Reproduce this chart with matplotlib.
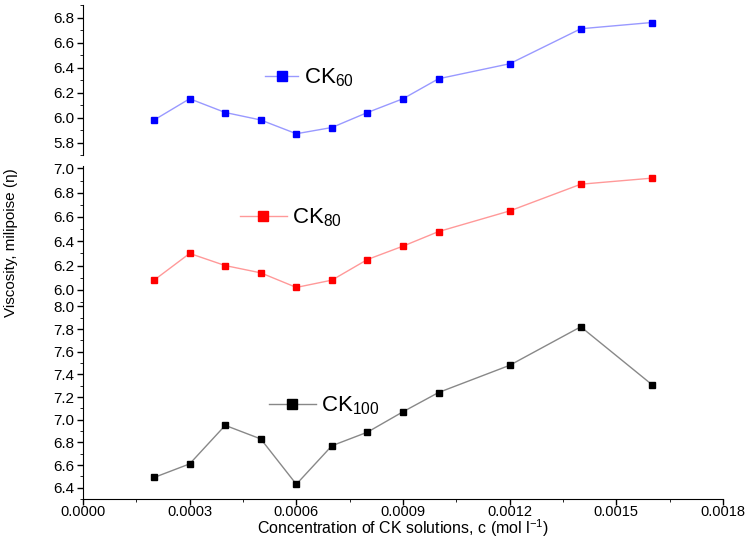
import matplotlib
matplotlib.use('Agg')
import matplotlib.pyplot as plt
from matplotlib.ticker import MultipleLocator, FormatStrFormatter

plt.rcParams['font.family'] = ['Liberation Sans', 'DejaVu Sans']

conc = [0.0002, 0.0003, 0.0004, 0.0005, 0.0006, 0.0007, 0.0008, 0.0009,
        0.0010, 0.0012, 0.0014, 0.0016]
ck60 = [5.98, 6.15, 6.04, 5.98, 5.87, 5.92, 6.04, 6.15, 6.31, 6.43, 6.71, 6.76]
ck80 = [6.08, 6.30, 6.20, 6.14, 6.02, 6.08, 6.25, 6.36, 6.48, 6.65, 6.87, 6.92]
ck100 = [6.49, 6.61, 6.95, 6.83, 6.43, 6.77, 6.89, 7.07, 7.24, 7.48, 7.82, 7.31]

W, H = 750, 539
fig = plt.figure(figsize=(7.5, 5.39), dpi=100)

def box(top, bottom, left=83, right=723):
    return [left / W, 1 - bottom / H, (right - left) / W, (bottom - top) / H]

ax1 = fig.add_axes(box(5, 155))
ax2 = fig.add_axes(box(166, 302))
ax3 = fig.add_axes(box(303, 499))

# axis, values, marker colour, line colour, label, ylim, legend pos (px), handle length
panels = [
    (ax1, ck60, '#0000ff', '#9999ff', r'CK$\mathregular{_{60}}$', (5.7, 6.9), (265, 78), 1.5),
    (ax2, ck80, '#ff0000', '#ff9999', r'CK$\mathregular{_{80}}$', (5.9, 7.02), (240, 218), 2.1),
    (ax3, ck100, '#000000', '#888888', r'CK$\mathregular{_{100}}$', (6.3, 8.03), (269, 406), 2.1),
]

for ax, vals, mc, lc, lab, ylim, lpos, hl in panels:
    ax.plot(conc, vals, color=lc, lw=1, marker='s', markersize=5,
            markerfacecolor=mc, markeredgecolor=mc, label=lab)
    ax.set_xlim(0, 0.0018)
    ax.set_ylim(*ylim)
    ax.yaxis.set_major_locator(MultipleLocator(0.2))
    ax.yaxis.set_minor_locator(MultipleLocator(0.1))
    ax.yaxis.set_major_formatter(FormatStrFormatter('%.1f'))
    ax.tick_params(axis='y', labelsize=11, direction='out', length=4, width=1, pad=2)
    ax.tick_params(axis='y', which='minor', length=2)
    ax.spines['top'].set_visible(False)
    ax.spines['right'].set_visible(False)
    ax.patch.set_alpha(0)
    ax.legend(loc='center left', bbox_to_anchor=(lpos[0] / W, 1 - lpos[1] / H),
              bbox_transform=fig.transFigure, frameon=False, fontsize=16,
              handlelength=hl, handletextpad=0.25, markerscale=1.5,
              borderaxespad=0, borderpad=0)

for ax in (ax1, ax2):
    ax.spines['bottom'].set_visible(False)
    ax.set_xticks([])

ax3.xaxis.set_major_locator(MultipleLocator(0.0003))
ax3.xaxis.set_minor_locator(MultipleLocator(0.00015))
ax3.xaxis.set_major_formatter(FormatStrFormatter('%.4f'))
ax3.tick_params(axis='x', labelsize=10.5, direction='out', length=4, width=1, pad=0)
ax3.tick_params(axis='x', which='minor', length=2)
ax3.set_xlabel('Concentration of CK solutions, c (mol l$\\mathregular{^{-1}}$)',
               fontsize=11.5, labelpad=-1)

fig.text(11 / W, 1 - 243 / H, 'Viscosity, milipoise (\u03b7)', rotation=90,
         ha='center', va='center', fontsize=11)

fig.savefig('out.png', dpi=100)
